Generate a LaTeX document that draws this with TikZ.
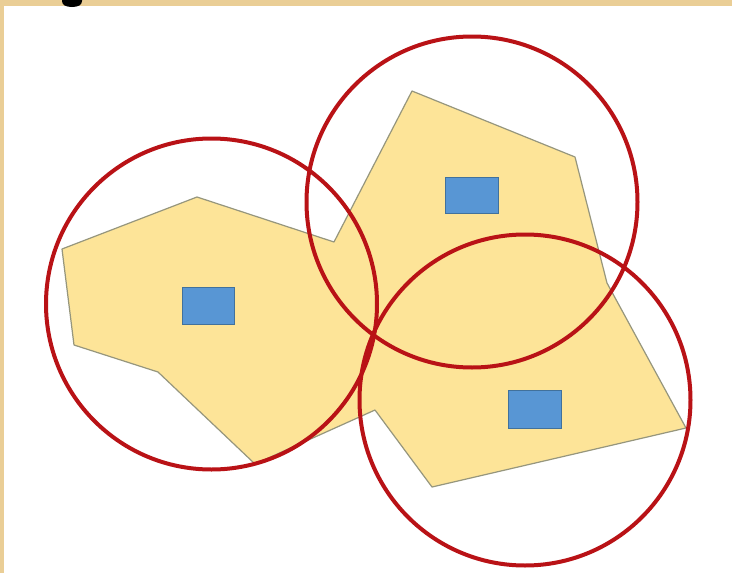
\documentclass[tikz,border=0pt]{standalone}
\usepackage{tikz}
\definecolor{parch}{RGB}{234,206,150}
\definecolor{polyfill}{RGB}{253,228,152}
\definecolor{polyline}{RGB}{150,150,125}
\definecolor{rectfill}{RGB}{88,150,212}
\definecolor{rectline}{RGB}{65,113,156}
\definecolor{ringred}{RGB}{185,18,22}
\tikzset{
  cell/.style={draw=rectline, fill=rectfill, line width=0.9pt, minimum width=#1, inner sep=0pt},
  ring/.style={draw=ringred, line width=4pt, circle, inner sep=0pt, minimum size=331pt},
}
\begin{document}
\begin{tikzpicture}[x=1pt,y=-1pt]
\useasboundingbox (0,0) rectangle (732,573);
% background
\fill[parch] (0,0) rectangle (732,573);
\fill[white] (4,6) rectangle (732,573);
\fill[black] (62,0) -- (62,1) .. controls (62,5) and (66,7) .. (72,7) .. controls (78,7) and (82,5) .. (82,1) -- (82,0) -- cycle;
% coverage polygon
\coordinate (p1) at (62,249);
\coordinate (p2) at (197,197);
\coordinate (p3) at (334,242);
\coordinate (p4) at (412,91);
\coordinate (p5) at (575,157);
\coordinate (p6) at (607,283);
\coordinate (p7) at (686,428);
\coordinate (p8) at (432,487);
\coordinate (p9) at (375,410);
\coordinate (p10) at (255,464);
\coordinate (p11) at (158,372);
\coordinate (p12) at (74,345);
\filldraw[fill=polyfill, draw=polyline, line width=1.2pt, line join=round]
  (p1) -- (p2) -- (p3) -- (p4) -- (p5) -- (p6) -- (p7) -- (p8) -- (p9) -- (p10) -- (p11) -- (p12) -- cycle;
% stations
\node[cell=52pt, minimum height=37pt] (s1) at (208.5,305.5) {};
\node[cell=53pt, minimum height=36pt] (s2) at (472.3,195) {};
\node[cell=53pt, minimum height=38pt] (s3) at (534.5,409) {};
% coverage rings
\node[ring] (c1) at (211.5,304) {};
\node[ring] (c2) at (472,202) {};
\node[ring] (c3) at (525,400) {};
\end{tikzpicture}
\end{document}
